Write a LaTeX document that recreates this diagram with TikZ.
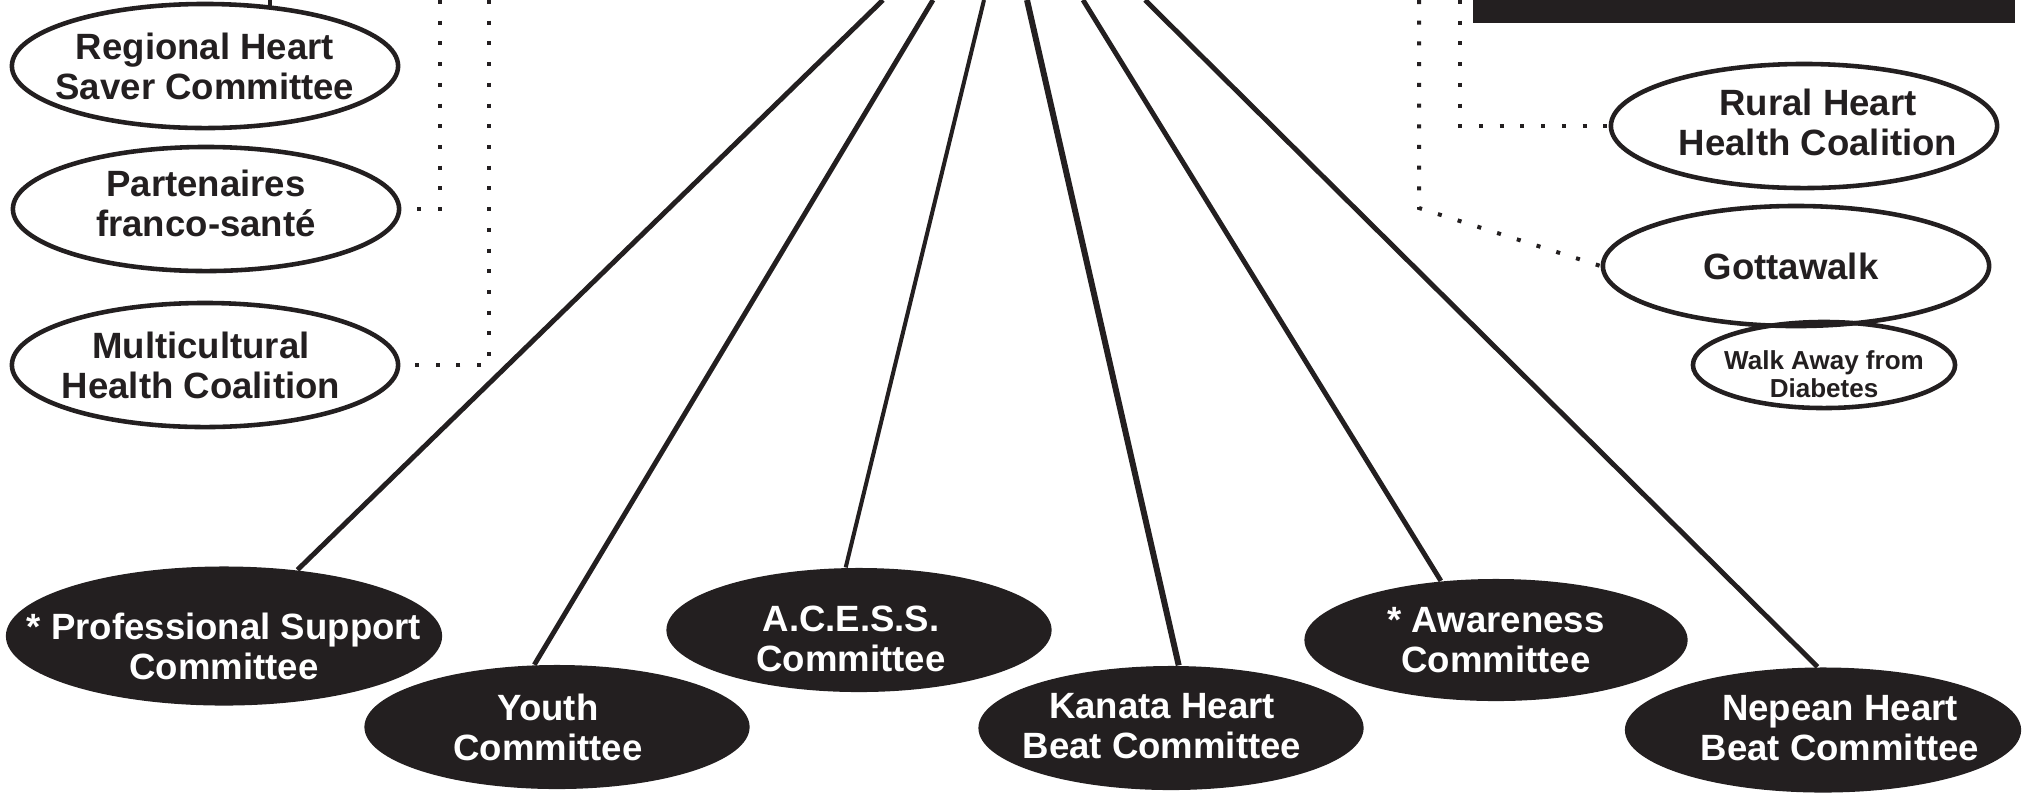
\documentclass[tikz,border=0pt]{standalone}
\usepackage{fontspec}
\setmainfont{Liberation Sans}
\usetikzlibrary{shapes.geometric,positioning}
\definecolor{ink}{RGB}{35,31,32}

\begin{document}
\begin{tikzpicture}[x=0.01cm,y=-0.01cm,
  open node/.style={ellipse,draw=ink,line width=1.3pt,inner sep=0pt,
    minimum width=3.86cm,minimum height=1.24cm},
  dark node/.style={ellipse,fill=ink,inner sep=0pt,
    minimum width=3.85cm,minimum height=1.24cm},
  tag/.style={font=\bfseries\fontsize{10.4}{11.4}\selectfont,align=center,text=ink},
  spoke/.style={draw=ink,line width=1.4pt},
  dots/.style={draw=ink,line width=0.04cm,dash pattern=on 0.04cm off 0.167cm}]
   \useasboundingbox (0,0) rectangle (2025,796);

   % left partners
   \node[open node] (rhs)  at (205,66)  [label={[tag]center:{Regional Heart\\Saver Committee}}] {};
   \node[open node] (pfs)  at (206,209) [label={[tag,yshift=0.06cm]center:{Partenaires\\franco-santé}}] {};
   \node[open node] (mhc)  at (205,365) [label={[tag,xshift=-0.04cm]center:{Multicultural\\Health Coalition}}] {};

   % right partners
   \fill[ink] (1473,0) rectangle (2015,23);
   \node[open node] (rhhc) at (1804,126) [label={[tag,xshift=0.14cm,yshift=0.04cm]center:{Rural Heart\\Health Coalition}}] {};
   \node[open node,minimum height=1.2cm] (gw) at (1796,266) [label={[tag,xshift=-0.05cm]center:{Gottawalk}}] {};
   \node[open node,minimum width=2.62cm,minimum height=0.86cm] (wad) at (1824,365)
        [label={[tag,font=\bfseries\fontsize{7.4}{6.6}\selectfont,yshift=-0.09cm]center:{Walk Away from\\Diabetes}}] {};

   % committees
   \node[dark node,minimum width=4.36cm,minimum height=1.39cm] (psc) at (224,636)
        [label={[tag,text=white,yshift=-0.1cm]center:{* Professional Support\\Committee}}] {};
   \node[dark node] (yc)  at (557,727)  [label={[tag,text=white,xshift=-0.09cm]center:{Youth\\Committee}}] {};
   \node[dark node] (ac)  at (859,630)  [label={[tag,text=white,xshift=-0.08cm,yshift=-0.09cm]center:{A.C.E.S.S.\\Committee}}] {};
   \node[dark node] (khb) at (1171,728) [label={[tag,text=white,xshift=-0.09cm,yshift=0.02cm]center:{Kanata Heart\\Beat Committee}}] {};
   \node[dark node,minimum width=3.83cm,minimum height=1.22cm] (awc) at (1496,640)
        [label={[tag,text=white]center:{* Awareness\\Committee}}] {};
   \node[dark node,minimum width=3.96cm,minimum height=1.25cm] (nhb) at (1823,730)
        [label={[tag,text=white,xshift=0.17cm,yshift=0.02cm]center:{Nepean Heart\\Beat Committee}}] {};

   \coordinate (t_0) at (270,0);
   \coordinate (t_1) at (883,0);
   \coordinate (t_2) at (933,0);
   \coordinate (t_3) at (984,0);
   \coordinate (t_4) at (1027,0);
   \coordinate (t_5) at (1083,0);
   \coordinate (t_6) at (1145,0);
   \coordinate (d_1) at (440,0);
   \coordinate (d_2) at (489,0);
   \coordinate (d_3) at (1419,0);
   \coordinate (d_4) at (1460,0);
   \coordinate (d_5) at (1419,208);

    \path[spoke]
    (t_0) edge (t_0 |- rhs.42)
    (t_1) edge (psc.42)
    (t_2) edge (yc.110)
    (t_3) edge [line width=1.15pt] (ac.102)
    (t_4) edge [line width=1.7pt]  (khb.83)
    (t_5) edge (awc.133)
    (t_6) edge (nhb.95);

    \draw[dots] (d_1) |- (pfs.east);
    \draw[dots] (d_2) |- (mhc.east);
    \draw[dots] (d_4) |- (rhhc.west);
    \draw[dots] (d_3) -- (d_5) -- (gw.west);
\end{tikzpicture}
\end{document}
